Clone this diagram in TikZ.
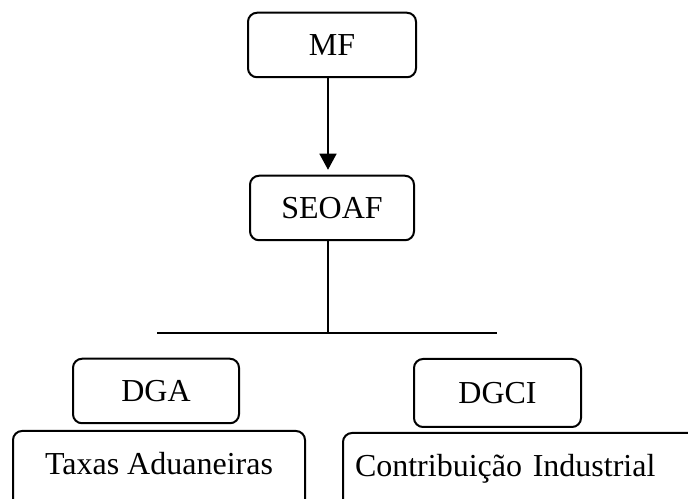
\documentclass[tikz,border=0pt]{standalone}
\usepackage{fontspec}
\setmainfont{Liberation Serif}
\usetikzlibrary{arrows.meta}
\tikzset{
    orgbox/.style={draw, line width=2pt, rounded corners=9pt, minimum width=166pt,
        minimum height=64pt, inner ysep=22pt, text height=20.5pt, text depth=0pt,
        font=\fontsize{32}{38}\selectfont},
    taxbox/.style={orgbox, anchor=north west, text depth=34pt, inner ysep=23pt},
    link/.style={line width=1.3pt}
}
\begin{document}
\begin{tikzpicture}[x=1pt, y=1pt]
    \useasboundingbox (0,0) rectangle (688,498);
    \clip (0,0) rectangle (688,498);
    \node[orgbox, minimum width=168pt] (MF) at (332,453) {MF};
    \node[orgbox, minimum width=164pt] (SEOAF) at (332,290) {SEOAF};
    \node[orgbox] (DGA) at (156,107) {DGA};
    \node[orgbox, minimum width=167pt, minimum height=68pt] (DGCI) at (497.5,105) {DGCI};
    \node[taxbox, minimum width=292pt] (TA) at (12,68) {Taxas Aduaneiras};
    \node[taxbox, minimum width=360pt, text width=336pt, inner xsep=12pt, align=left] (CI) at (342,66) {Contribuição Industrial};
    \coordinate (hl) at (157,165);
    \coordinate (hr) at (497,165);
    \coordinate (jn) at (328,165);
    \draw[link, -{Triangle[length=16pt, width=17pt]}, shorten >=5pt] (jn |- MF.south) -- (jn |- SEOAF.north);
    \draw[link] (jn |- SEOAF.south) -- (jn);
    \draw[link] (hl) -- (hr);
\end{tikzpicture}
\end{document}
